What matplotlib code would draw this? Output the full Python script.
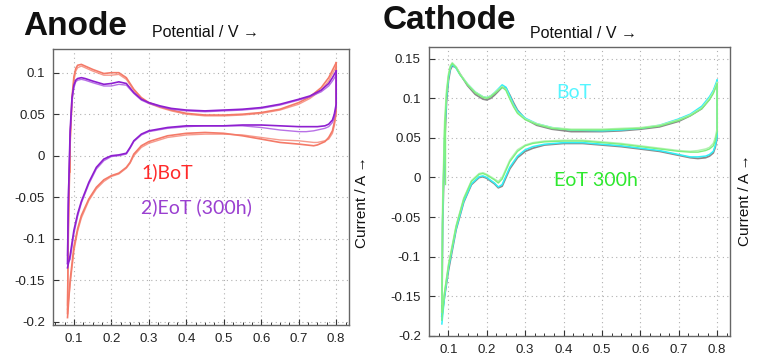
import matplotlib.pyplot as plt
from matplotlib.ticker import MultipleLocator

plt.rcParams['font.family'] = ['Liberation Sans', 'DejaVu Sans']

# ---- Anode data (potential / V, current / A) ----
an_up_v = [0.083, 0.085, 0.09, 0.095, 0.1, 0.105, 0.11, 0.12, 0.13, 0.15, 0.18, 0.2, 0.22,
           0.24, 0.26, 0.28, 0.3, 0.33, 0.36, 0.4, 0.45, 0.5, 0.55, 0.6, 0.65, 0.7,
           0.73, 0.76, 0.78, 0.79, 0.8]
an_bot_up_1 = [-0.19, -0.10, 0.02, 0.07, 0.095, 0.105, 0.109, 0.110, 0.108, 0.104, 0.099, 0.100, 0.100,
               0.094, 0.080, 0.070, 0.064, 0.059, 0.055, 0.051, 0.049, 0.049, 0.050, 0.052, 0.056, 0.064,
               0.071, 0.082, 0.094, 0.103, 0.112]
an_bot_up_2 = [-0.18, -0.09, 0.01, 0.065, 0.09, 0.102, 0.106, 0.108, 0.106, 0.102, 0.097, 0.097, 0.098,
               0.092, 0.079, 0.069, 0.063, 0.058, 0.054, 0.050, 0.048, 0.048, 0.049, 0.051, 0.055, 0.062,
               0.069, 0.079, 0.090, 0.099, 0.107]
an_eot_up_1 = [-0.13, -0.06, 0.03, 0.07, 0.085, 0.091, 0.093, 0.094, 0.093, 0.090, 0.086, 0.087, 0.089,
               0.087, 0.076, 0.068, 0.064, 0.060, 0.057, 0.055, 0.054, 0.055, 0.056, 0.058, 0.062, 0.068,
               0.072, 0.079, 0.087, 0.094, 0.102]
an_eot_up_2 = [-0.12, -0.05, 0.025, 0.065, 0.082, 0.089, 0.091, 0.092, 0.091, 0.088, 0.084, 0.084, 0.086,
               0.085, 0.075, 0.067, 0.063, 0.059, 0.056, 0.054, 0.053, 0.054, 0.055, 0.057, 0.061, 0.067,
               0.071, 0.077, 0.084, 0.090, 0.097]

an_dn_v = [0.8, 0.8, 0.795, 0.79, 0.78, 0.77, 0.75, 0.74, 0.72, 0.7, 0.65, 0.6, 0.55, 0.5, 0.45,
           0.4, 0.35, 0.3, 0.28, 0.26, 0.25, 0.24, 0.22, 0.2, 0.18, 0.16, 0.14, 0.12, 0.11,
           0.1, 0.09, 0.083]
an_bot_dn_1 = [0.112, 0.055, 0.040, 0.030, 0.022, 0.017, 0.013, 0.012, 0.013, 0.014, 0.016, 0.020, 0.024, 0.027, 0.028,
               0.027, 0.024, 0.017, 0.012, 0.002, -0.008, -0.014, -0.021, -0.024, -0.029, -0.038, -0.052, -0.072, -0.088,
               -0.110, -0.150, -0.195]
an_bot_dn_2 = [0.107, 0.050, 0.036, 0.027, 0.020, 0.018, 0.016, 0.016, 0.017, 0.018, 0.019, 0.022, 0.025, 0.026, 0.026,
               0.025, 0.022, 0.015, 0.010, 0.000, -0.009, -0.015, -0.022, -0.025, -0.031, -0.040, -0.054, -0.075, -0.091,
               -0.115, -0.155, -0.185]
an_eot_dn_1 = [0.102, 0.062, 0.050, 0.043, 0.038, 0.036, 0.035, 0.035, 0.035, 0.035, 0.036, 0.037, 0.037, 0.036, 0.036,
               0.036, 0.034, 0.030, 0.026, 0.018, 0.010, 0.003, 0.001, 0.000, -0.004, -0.014, -0.032, -0.055, -0.070,
               -0.090, -0.120, -0.135]
an_eot_dn_2 = [0.097, 0.058, 0.046, 0.040, 0.035, 0.033, 0.031, 0.030, 0.029, 0.029, 0.031, 0.034, 0.036, 0.036, 0.036,
               0.035, 0.033, 0.029, 0.025, 0.017, 0.009, 0.002, 0.000, -0.001, -0.006, -0.016, -0.034, -0.057, -0.073,
               -0.094, -0.125, -0.130]

# ---- Cathode data ----
ca_up_v = [0.083, 0.085, 0.09, 0.095, 0.1, 0.105, 0.11, 0.12, 0.13, 0.15, 0.17, 0.19, 0.2, 0.21,
           0.22, 0.23, 0.24, 0.25, 0.26, 0.27, 0.28, 0.3, 0.33, 0.37, 0.42, 0.5, 0.55, 0.6,
           0.65, 0.7, 0.73, 0.76, 0.78, 0.79, 0.8]
ca_bot_up_1 = [-0.18, -0.05, 0.05, 0.10, 0.125, 0.138, 0.143, 0.138, 0.130, 0.118, 0.108, 0.102, 0.101, 0.103,
               0.107, 0.112, 0.117, 0.114, 0.103, 0.092, 0.084, 0.075, 0.068, 0.063, 0.060, 0.059, 0.060, 0.062,
               0.066, 0.074, 0.080, 0.090, 0.102, 0.110, 0.123]
ca_bot_up_2 = [-0.17, -0.06, 0.04, 0.095, 0.122, 0.136, 0.141, 0.139, 0.131, 0.116, 0.105, 0.099, 0.098, 0.100,
               0.104, 0.109, 0.114, 0.113, 0.104, 0.094, 0.085, 0.074, 0.066, 0.061, 0.058, 0.058, 0.059, 0.061,
               0.064, 0.071, 0.078, 0.087, 0.099, 0.108, 0.120]
ca_eot_up_1 = [-0.17, -0.04, 0.06, 0.105, 0.128, 0.140, 0.144, 0.139, 0.130, 0.117, 0.107, 0.101, 0.100, 0.102,
               0.106, 0.110, 0.114, 0.110, 0.099, 0.089, 0.081, 0.073, 0.067, 0.062, 0.060, 0.060, 0.061, 0.062,
               0.065, 0.072, 0.078, 0.087, 0.098, 0.106, 0.118]
ca_eot_up_2 = [-0.16, -0.03, 0.07, 0.11, 0.13, 0.141, 0.145, 0.140, 0.131, 0.118, 0.108, 0.102, 0.101, 0.103,
               0.107, 0.111, 0.115, 0.111, 0.100, 0.090, 0.082, 0.074, 0.068, 0.063, 0.061, 0.061, 0.062, 0.063,
               0.066, 0.073, 0.079, 0.088, 0.100, 0.108, 0.120]

ca_dn_v = [0.8, 0.8, 0.795, 0.79, 0.78, 0.77, 0.75, 0.73, 0.7, 0.65, 0.6, 0.55, 0.5, 0.45, 0.4,
           0.35, 0.32, 0.3, 0.28, 0.26, 0.25, 0.24, 0.23, 0.22, 0.2, 0.19, 0.18, 0.16, 0.14,
           0.12, 0.1, 0.09, 0.083]
ca_bot_dn_1 = [0.123, 0.052, 0.040, 0.033, 0.029, 0.027, 0.026, 0.026, 0.029, 0.034, 0.037, 0.040, 0.042, 0.044, 0.044,
               0.042, 0.039, 0.035, 0.027, 0.013, 0.002, -0.009, -0.012, -0.007, 0.000, 0.002, 0.001, -0.008, -0.030,
               -0.065, -0.115, -0.150, -0.185]
ca_bot_dn_2 = [0.120, 0.050, 0.038, 0.031, 0.027, 0.025, 0.024, 0.025, 0.028, 0.033, 0.036, 0.039, 0.041, 0.043, 0.043,
               0.041, 0.037, 0.033, 0.025, 0.011, 0.000, -0.011, -0.013, -0.008, -0.001, 0.001, 0.000, -0.009, -0.031,
               -0.066, -0.118, -0.150, -0.175]
ca_eot_dn_1 = [0.118, 0.058, 0.046, 0.040, 0.036, 0.034, 0.032, 0.032, 0.033, 0.036, 0.039, 0.042, 0.044, 0.046, 0.046,
               0.045, 0.043, 0.040, 0.033, 0.020, 0.009, -0.002, -0.007, -0.003, 0.003, 0.005, 0.004, -0.005, -0.027,
               -0.062, -0.112, -0.145, -0.180]
ca_eot_dn_2 = [0.120, 0.062, 0.050, 0.043, 0.038, 0.036, 0.034, 0.033, 0.034, 0.037, 0.040, 0.043, 0.045, 0.047, 0.047,
               0.046, 0.044, 0.041, 0.035, 0.022, 0.011, 0.000, -0.005, -0.002, 0.004, 0.006, 0.005, -0.004, -0.026,
               -0.061, -0.110, -0.145, -0.170]

x_ticks = [0.1, 0.2, 0.3, 0.4, 0.5, 0.6, 0.7, 0.8]
x_tick_labels = ['0.1', '0.2', '0.3', '0.4', '0.5', '0.6', '0.7', '0.8']
an_y_ticks = [-0.2, -0.15, -0.1, -0.05, 0, 0.05, 0.1]
an_y_labels = ['-0.2', '-0.15', '-0.1', '-0.05', '0', '0.05', '0.1']
ca_y_ticks = [-0.2, -0.15, -0.1, -0.05, 0, 0.05, 0.1, 0.15]
ca_y_labels = ['-0.2', '-0.15', '-0.1', '-0.05', '0', '0.05', '0.1', '0.15']

BOT_RED = '#f47a68'
EOT_PURPLE = '#8e1fd0'
CYAN = '#30f0f8'
GRAY = '#8a8a8a'
GREEN = '#7ef07e'
LGREEN = '#b2f2b2'

fig = plt.figure(figsize=(7.61, 3.58), dpi=100)
ax1 = fig.add_axes([0.070, 0.092, 0.389, 0.771])
ax2 = fig.add_axes([0.564, 0.062, 0.395, 0.806])


def style(ax, yticks, ylabels, xlim, ylim):
    ax.set_xlim(xlim)
    ax.set_ylim(ylim)
    ax.set_xticks(x_ticks)
    ax.set_xticklabels(x_tick_labels)
    ax.set_yticks(yticks)
    ax.set_yticklabels(ylabels)
    ax.xaxis.set_minor_locator(MultipleLocator(0.025))
    ax.tick_params(axis='both', which='major', direction='in', length=4, width=0.8,
                   labelsize=9.5, colors='#333333', labelcolor='#222222', pad=6)
    ax.tick_params(axis='x', which='minor', direction='in', length=2.5, width=0.7, colors='#333333')
    ax.tick_params(top=False, right=False)
    ax.grid(True, which='major', linestyle=(0, (1, 3)), color='#b0b0b0', linewidth=0.8)
    for s in ax.spines.values():
        s.set_color('#666666')
        s.set_linewidth(1.0)


# Anode
ax1.plot(an_up_v, an_bot_up_2, color=BOT_RED, lw=1.0, alpha=0.75)
ax1.plot(an_dn_v, an_bot_dn_2, color=BOT_RED, lw=1.0, alpha=0.75)
ax1.plot(an_up_v, an_bot_up_1, color=BOT_RED, lw=1.2)
ax1.plot(an_dn_v, an_bot_dn_1, color=BOT_RED, lw=1.2)
ax1.plot([0.09, 0.09], [0.02, -0.02], color=BOT_RED, lw=1.2)
ax1.plot(an_up_v, an_eot_up_2, color='#a64ee0', lw=1.0, alpha=0.8)
ax1.plot(an_dn_v, an_eot_dn_2, color='#a64ee0', lw=1.0, alpha=0.8)
ax1.plot(an_up_v, an_eot_up_1, color=EOT_PURPLE, lw=1.2)
ax1.plot(an_dn_v, an_eot_dn_1, color=EOT_PURPLE, lw=1.2)
style(ax1, an_y_ticks, an_y_labels, (0.045, 0.835), (-0.204, 0.1285))
ax1.text(0.28, -0.027, '1)BoT', color='#ff2a2a', fontsize=14, family=['Lato', 'DejaVu Sans'])
ax1.text(0.28, -0.069, '2)EoT (300h)', color='#9a3fd0', fontsize=14, family=['Lato', 'DejaVu Sans'])

# Cathode
ax2.plot(ca_up_v, ca_bot_up_2, color=GRAY, lw=1.3)
ax2.plot(ca_dn_v, ca_bot_dn_2, color=GRAY, lw=1.3)
ax2.plot(ca_up_v, ca_bot_up_1, color=CYAN, lw=1.1)
ax2.plot(ca_dn_v, ca_bot_dn_1, color=CYAN, lw=1.1)
ax2.plot(ca_up_v, ca_eot_up_2, color=LGREEN, lw=1.1)
ax2.plot(ca_dn_v, ca_eot_dn_2, color=LGREEN, lw=1.1)
ax2.plot(ca_up_v, ca_eot_up_1, color=GREEN, lw=1.0)
ax2.plot(ca_dn_v, ca_eot_dn_1, color=GREEN, lw=1.0)
ax2.plot([0.092, 0.092], [0.075, -0.008], color=GREEN, lw=1.0)
style(ax2, ca_y_ticks, ca_y_labels, (0.05, 0.833), (-0.197, 0.1645))
ax2.text(0.38, 0.1, 'BoT', color='#55f5ff', fontsize=14, family=['Lato', 'DejaVu Sans'])
ax2.text(0.375, -0.011, 'EoT 300h', color='#2ee82e', fontsize=14, family=['Lato', 'DejaVu Sans'])

# Titles and axis labels
fig.text(0.030, 0.902, 'Anode', fontsize=24, fontweight='bold', color='#111111')
fig.text(0.503, 0.920, 'Cathode', fontsize=24, fontweight='bold', color='#111111')
fig.text(0.200, 0.898, 'Potential / V \u2192', fontsize=11.5, color='#111111')
fig.text(0.697, 0.893, 'Potential / V \u2192', fontsize=11.5, color='#111111')
fig.text(0.476, 0.435, 'Current / A \u2192', fontsize=11, rotation=90, color='#111111', va='center', ha='center')
fig.text(0.979, 0.44, 'Current / A \u2192', fontsize=11, rotation=90, color='#111111', va='center', ha='center')

fig.savefig('out.png', dpi=100)
